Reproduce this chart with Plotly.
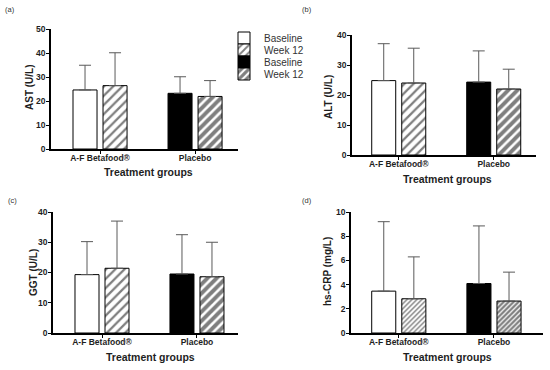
import plotly.graph_objects as go

groups = ["A-F Betafood®", "Placebo"]
series_names = ["Baseline", "Week 12"]

# mean values [A-F Betafood®, Placebo]
ast_baseline = [24.6, 23.2]
ast_week12 = [26.4, 21.9]
ast_sd_baseline = [10.3, 6.9]
ast_sd_week12 = [13.7, 6.6]

alt_baseline = [24.8, 24.3]
alt_week12 = [24.0, 22.0]
alt_sd_baseline = [12.3, 10.4]
alt_sd_week12 = [11.6, 6.6]

ggt_baseline = [19.3, 19.5]
ggt_week12 = [21.4, 18.6]
ggt_sd_baseline = [10.9, 13.0]
ggt_sd_week12 = [15.6, 11.4]

crp_baseline = [3.46, 4.09]
crp_week12 = [2.83, 2.64]
crp_sd_baseline = [5.74, 4.76]
crp_sd_week12 = [3.46, 2.39]

x_title = "Treatment groups"

panels = [
    dict(label="(a)", ytitle="AST (U/L)", base=ast_baseline, w12=ast_week12,
         sdb=ast_sd_baseline, sdw=ast_sd_week12, ymax=50, dtick=10),
    dict(label="(b)", ytitle="ALT (U/L)", base=alt_baseline, w12=alt_week12,
         sdb=alt_sd_baseline, sdw=alt_sd_week12, ymax=40, dtick=10),
    dict(label="(c)", ytitle="GGT (U/L)", base=ggt_baseline, w12=ggt_week12,
         sdb=ggt_sd_baseline, sdw=ggt_sd_week12, ymax=40, dtick=10),
    dict(label="(d)", ytitle="hs-CRP (mg/L)", base=crp_baseline, w12=crp_week12,
         sdb=crp_sd_baseline, sdw=crp_sd_week12, ymax=10, dtick=2),
]

W, H = 550, 370
# pixel layout: (x0, x1, ytop, ybottom, xrange)
geo = [
    (51, 238, 29, 149, [-0.516, 1.452]),
    (352, 536, 35, 155, [-0.492, 1.445]),
    (53, 238, 212, 333, [-0.516, 1.432]),
    (351, 543, 212, 333, [-0.502, 1.515]),
]
label_pos = [(10, 10), (307, 10), (12, 200), (307, 200)]
xtitle_pos = [(148, 172), (447, 179), (150, 357), (447, 357)]
ytitle_pos = [(29, 87), (328, 97), (33, 273), (327, 272)]
legend_rows = [38, 50, 62, 74]

FONT = "Arial, Liberation Sans, sans-serif"
ERR = "#5a5a5a"
TXT = "#1e1e1e"

fig = go.Figure()
layout = dict(
    width=W, height=H, margin=dict(l=0, r=0, t=0, b=0),
    paper_bgcolor="white", plot_bgcolor="white",
    barmode="group", bargap=0.368, bargroupgap=0.2,
    font=dict(family=FONT, color=TXT),
    showlegend=True,
    annotations=[],
)

legend_keys = ["legend", "legend2", "legend3", "legend4"]
for k, ry in zip(legend_keys, legend_rows):
    layout[k] = dict(x=224 / W, y=1 - ry / H, xanchor="left", yanchor="middle",
                     font=dict(size=10, color="#333333", family=FONT),
                     bgcolor="rgba(0,0,0,0)", itemwidth=30, borderwidth=0)

for i, (p, g) in enumerate(zip(panels, geo)):
    n = "" if i == 0 else str(i + 1)
    xa, ya = "x" + n, "y" + n
    fine = (i == 3)
    hsize = 3.5 if fine else 6.5
    specs = [
        (series_names[0], groups[0], p["base"][0], p["sdb"][0], "white", None, "b"),
        (series_names[1], groups[0], p["w12"][0], p["sdw"][0], "white", 0.35 if not fine else 0.4, "w"),
        (series_names[0], groups[1], p["base"][1], p["sdb"][1], "black", None, "b"),
        (series_names[1], groups[1], p["w12"][1], p["sdw"][1], "white", 0.6 if not fine else 0.65, "w"),
    ]
    for j, (name, grp, val, sd, col, sol, og) in enumerate(specs):
        marker = dict(color=col, line=dict(color="black", width=1))
        if sol is not None:
            marker["pattern"] = dict(shape="/", fgcolor="black", bgcolor="white",
                                     size=hsize, solidity=sol, fillmode="overlay")
        fig.add_trace(go.Bar(
            x=[grp], y=[val], name=name, offsetgroup=og,
            marker=marker, xaxis=xa, yaxis=ya, showlegend=(i == 0),
            legend=legend_keys[j],
            error_y=dict(type="data", symmetric=False, array=[sd], arrayminus=[0],
                         color=ERR, thickness=1, width=6),
        ))
    x0, x1, yt, yb, xr = g
    layout["xaxis" + n] = dict(
        domain=[x0 / W, x1 / W], anchor=ya, range=xr, type="category",
        showline=True, linecolor="black", linewidth=1.5,
        ticks="outside", ticklen=3, tickcolor="black", ticklabelstandoff=-3,
        tickfont=dict(size=8.5, family=FONT, color=TXT, weight="bold"),
        showgrid=False, zeroline=False, fixedrange=True, automargin=False,
    )
    layout["yaxis" + n] = dict(
        domain=[1 - yb / H, 1 - yt / H], anchor=xa, range=[0, p["ymax"]],
        dtick=p["dtick"], showline=True, linecolor="black", linewidth=1.5,
        ticks="outside", ticklen=3, tickcolor="black", ticklabelstandoff=-1,
        tickfont=dict(size=8.5, family=FONT, color=TXT, weight="bold"),
        showgrid=False, zeroline=False, fixedrange=True, automargin=False,
    )
    lx, ly = label_pos[i]
    layout["annotations"].append(dict(
        text=p["label"], x=lx / W, y=1 - ly / H, xref="paper", yref="paper",
        xanchor="center", yanchor="middle", showarrow=False,
        font=dict(size=7.5, color="#333333"),
    ))
    tx, ty = xtitle_pos[i]
    layout["annotations"].append(dict(
        text="<b>" + x_title + "</b>", x=tx / W, y=1 - ty / H, xref="paper", yref="paper",
        xanchor="center", yanchor="middle", showarrow=False,
        font=dict(size=10.5, color=TXT),
    ))
    yx, yy = ytitle_pos[i]
    layout["annotations"].append(dict(
        text="<b>" + p["ytitle"] + "</b>", x=yx / W, y=1 - yy / H, xref="paper", yref="paper",
        xanchor="center", yanchor="middle", showarrow=False, textangle=-90,
        font=dict(size=10, color=TXT),
    ))

fig.update_layout(**layout)
fig.write_html("out.html", config={"displayModeBar": False},
               post_script="document.body.style.margin='0';document.body.style.overflow='hidden';")
